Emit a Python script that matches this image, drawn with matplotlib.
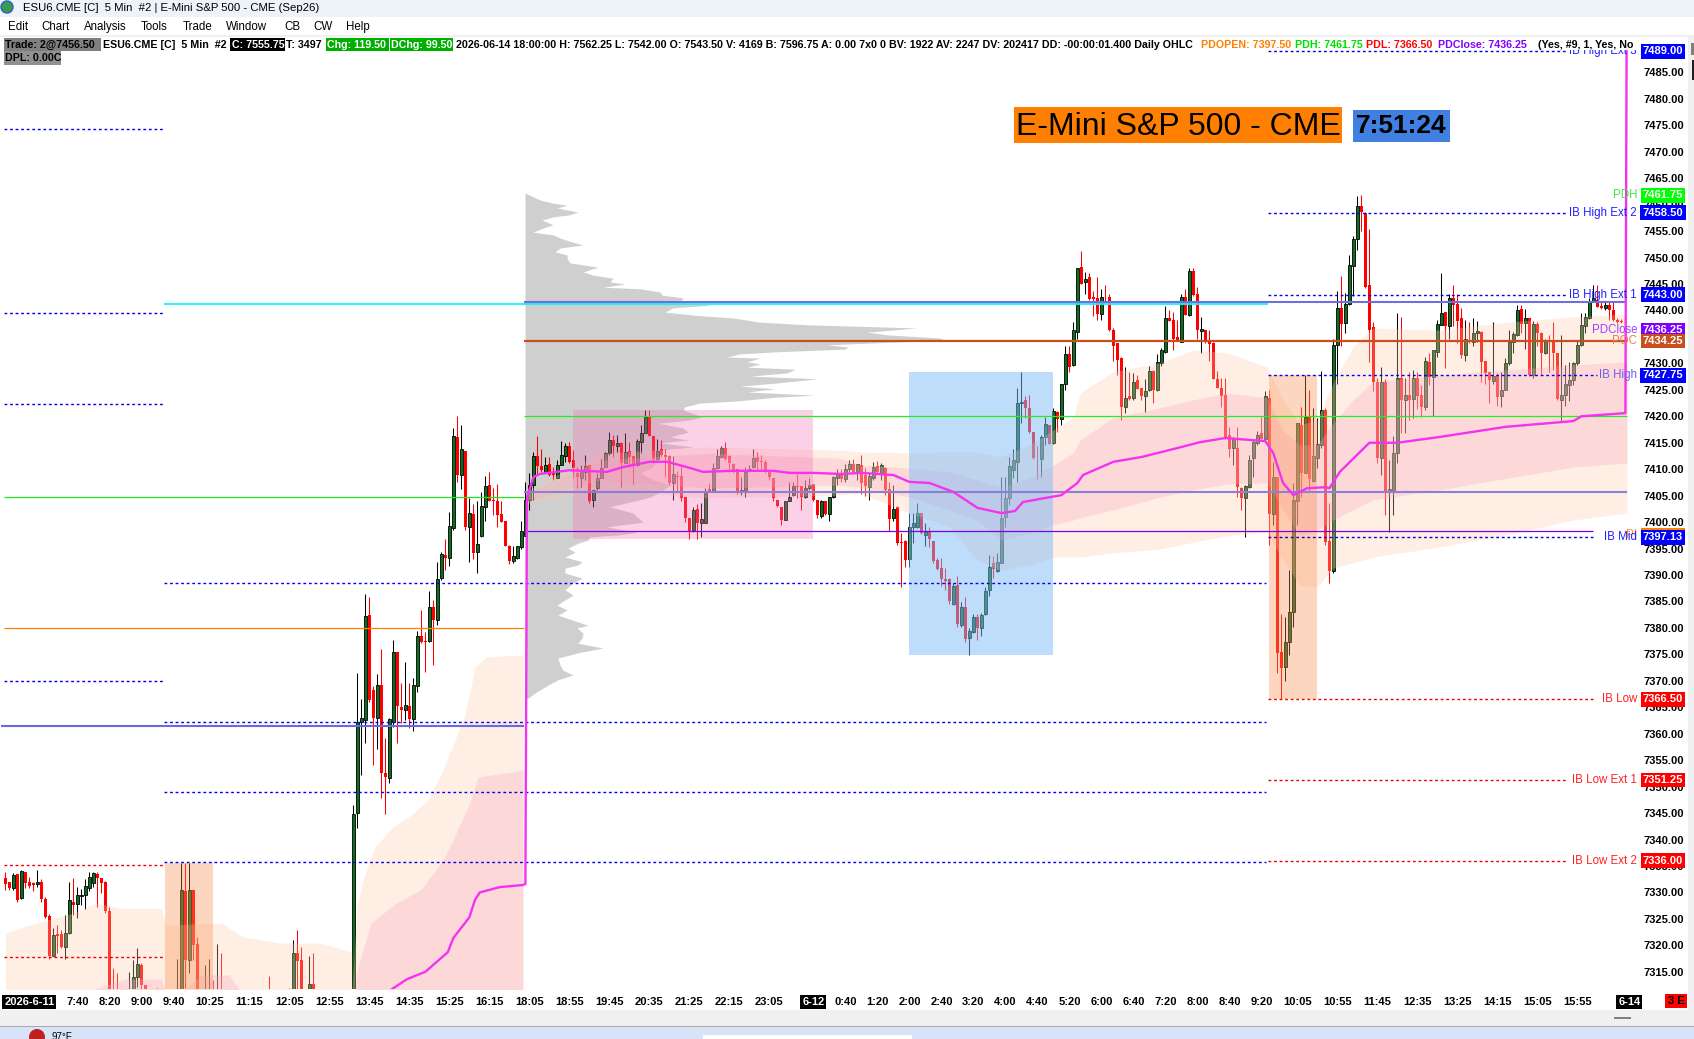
import matplotlib
matplotlib.use("Agg")
from matplotlib import pyplot as plt
from matplotlib.patches import Rectangle, Circle

# es 5 min chart, prices
opens = [
    7332.7,7332.0,7330.8,7333.5,7328.9,7333.9,7332.0,7331.7,7331.6,7332.0,
    7328.7,7325.5,7318.0,7322.1,7322.1,7319.6,7322.4,7328.2,7327.8,7329.4,
    7329.5,7330.8,7331.8,7333.5,7332.7,7332.0,7326.4,7310,7309,7307,
    7305,7306,7306,7314.1,7316.3,7312.5,7309,7307,7306,7308,
    7306,7305,7304,7303,7309,7330.3,7317.2,7330.5,7320.2,7309,
    7304,7306,7309,7305,7309,7304,7303,7305,7304,7303,
    7302,7304,7303,7305,7304,7303,7308,7304,7303,7305,
    7304,7304,7308,7318.5,7317.2,7308,7306,7312.7,7306,7305,
    7304,7303,7305,7304,7303,7304,7303,7304,7345.1,7362.3,
    7362.6,7382.4,7368.3,7363,7369.2,7352.5,7351.6,7362.2,7375.4,7365.1,
    7364.5,7365.3,7362.8,7369.1,7378.5,7377.5,7377.5,7383.9,7381.4,7389.4,
    7393.8,7393.2,7398.8,7416,7408.9,7413.4,7399.1,7401.5,7394.4,7397.4,
    7402.9,7407,7404.1,7403.9,7401.5,7400.2,7395.4,7392.7,7393.2,7395.2,
    7397.4,7404.2,7407,7412.5,7410.6,7409.5,7411,7409.2,7408.4,7410.8,
    7412.5,7414.3,7411.7,7409.3,7408.4,7409.5,7410.8,7404.1,7406.4,7408.3,
    7410.5,7413.1,7415.6,7414.4,7414.9,7411.2,7413.5,7412.5,7410.8,7415.2,
    7416.9,7419.9,7416.3,7412,7413.8,7412.7,7412.5,7407.4,7408.7,7408.7,
    7404.8,7400.7,7398.5,7402.4,7399.8,7399.9,7406.2,7405.9,7410.2,7412.4,
    7414.1,7412.5,7410.9,7410,7405.7,7405.9,7409.8,7410.4,7412.4,7411.5,
    7411.4,7409.5,7408.4,7404.2,7402.8,7400.4,7404,7405.1,7406.8,7406.8,
    7404.8,7406.4,7407.2,7404.1,7401.2,7404,7401.5,7404.7,7408.3,7409.2,
    7408.2,7410,7411,7409.5,7410.8,7408.9,7406.7,7408.3,7410.6,7409.2,
    7410.2,7406.2,7400.7,7402.9,7396.3,7396.5,7393.1,7399,7399,7401.7,
    7397.6,7398.2,7396.4,7392.9,7391.3,7389.2,7389.2,7384.5,7388.1,7380.5,
    7384,7378,7379.3,7382,7379.9,7382.6,7387.2,7392.3,7390.8,7392.3,
    7400.9,7404.5,7409.8,7411.4,7422.6,7423.1,7421.5,7417,7412.2,7412,
    7416.1,7418.4,7414.9,7420.9,7419.4,7426.2,7431.7,7429.7,7436,7448.3,
    7445.3,7446.3,7442.6,7442.3,7439.3,7442.4,7442.5,7436.4,7433.8,7431.1,
    7421.7,7423.8,7423.4,7426.9,7425.3,7423.9,7424.9,7428.6,7424.9,7430.1,
    7432.2,7438.5,7438.2,7434.9,7434.1,7442.5,7439.1,7447.5,7443.1,7436.2,
    7436.3,7434.5,7433.8,7427.1,7425.4,7424,7416.4,7414.1,7414.1,7406.4,
    7404.5,7406.7,7412.1,7414.9,7416.8,7415.8,7423.4,7401.5,7408.5,7375.4,
    7372.7,7377.3,7383,7404,7418.4,7409.3,7419.9,7407.8,7412.2,7414.6,
    7421.1,7396.4,7390.8,7433.4,7440.4,7437.7,7441.2,7448.4,7453.5,7459.8,
    7458.5,7444.8,7436.8,7426.5,7412.1,7426.5,7405.6,7405.9,7413,7427.2,
    7423.1,7424,7423.2,7427.2,7424,7421.7,7430.3,7427.5,7432.2,7437.3,
    7439.8,7437.1,7442.3,7441.2,7438.5,7431.6,7434.4,7434.1,7435.8,7436,
    7430.5,7428.4,7426.7,7427.8,7423.8,7425,7430,7434.1,7435.4,7440.2,
    7437.6,7438.5,7427.8,7437.5,7435.7,7431.9,7434.3,7434.1,7431.9,7423.1,
    7424,7425.9,7426.9,7430,7433.4,7437.1,7438.5,7441.7,7441.7,7440.8,
    7440.4,7441,7440.1,7438.2,7438.1,7437.9,
]
highs = [
    7333.9,7332.0,7333.6,7333.5,7334.2,7333.9,7332.9,7332.0,7334.2,7332.5,
    7329.2,7325.9,7323.2,7323.8,7322.9,7325.7,7332.0,7332.7,7331.1,7330.7,
    7332.5,7333.9,7333.9,7333.9,7332.7,7332.2,7327.3,7315.7,7314.8,7308,
    7307,7315,7317.2,7319.4,7316.6,7312.5,7310,7309,7311.9,7309,
    7308,7307,7307,7317.5,7335.6,7335.6,7335.6,7330.5,7321.6,7310,
    7316.3,7317.5,7313.4,7320.2,7318.5,7305,7304,7306,7305,7304,
    7303,7305,7304,7306,7305,7304,7314.2,7305,7304,7306,
    7305,7311.9,7321,7322.9,7319.7,7309,7318,7318.6,7307,7306,
    7305,7304,7306,7305,7304,7305,7304,7346.5,7371.4,7366.5,
    7386.5,7385.8,7369,7371.3,7376.1,7359.1,7362.9,7377.7,7375.5,7369.6,
    7373.6,7369.5,7370.5,7379.4,7383.3,7379.3,7387,7385.3,7392.5,7394.4,
    7396.9,7402,7417.8,7420,7418.4,7413.4,7404.6,7403.5,7403.9,7405.6,
    7408.7,7409.4,7406.4,7407.2,7403.9,7400.2,7395.7,7395.4,7395.5,7400.3,
    7407.6,7409.2,7413.3,7416.3,7413.9,7412.4,7412.4,7410.5,7411.7,7415.3,
    7414.9,7415.2,7413.6,7410.5,7410.8,7412.7,7410.8,7406.1,7409.2,7411.9,
    7413.3,7417.1,7416.5,7416.5,7415.2,7416.8,7415.2,7412.5,7415.8,7418.4,
    7421.2,7421.2,7416.3,7415.8,7415.6,7413.9,7412.7,7412.5,7409.7,7410.6,
    7404.8,7400.7,7402.9,7403.5,7403.7,7406.4,7407.4,7411.2,7413.9,7414.3,
    7415.2,7412.7,7411.1,7410.2,7408.5,7410.5,7410.8,7413.9,7413.3,7412.7,
    7411.7,7409.5,7408.4,7404.2,7402.8,7403.9,7407.5,7407.6,7409.5,7406.8,
    7408,7408.3,7407.2,7404.2,7404.2,7404,7404.7,7408.7,7410.1,7410,
    7411,7411.7,7412,7411,7412.7,7410.2,7409.5,7411.4,7411.6,7411.1,
    7410.5,7407.6,7407,7403,7397.9,7396.6,7401.7,7401.7,7403.7,7401.7,
    7399.8,7399.1,7396.4,7393.2,7393.2,7391.3,7389.4,7388.4,7389.8,7384.9,
    7385.8,7379.9,7382.7,7382.6,7382.9,7387.8,7393.8,7393.6,7394.1,7408.6,
    7408.6,7412.4,7413.9,7425.3,7428.3,7423.8,7424,7417,7414.3,7416.5,
    7419.9,7418.4,7421.5,7421,7426.1,7433.2,7433.2,7437.9,7448,7451.3,
    7447.3,7447.1,7443.6,7446.3,7444,7444.8,7443.2,7436.6,7433.8,7431.3,
    7429.4,7428.4,7428.1,7427.8,7425.3,7427,7429.5,7428.8,7431.8,7432.9,
    7440.9,7440,7439.8,7438.2,7443.1,7444,7448,7448,7444.5,7438.8,
    7436.3,7436.4,7434.1,7428.6,7427.2,7427.2,7417.9,7416.1,7417.9,7406.7,
    7407,7412.7,7415.8,7417.3,7419.9,7424.7,7425,7411.4,7408.6,7382.7,
    7382.1,7390.9,7407.3,7418.7,7421.8,7427.8,7425,7421.5,7419.6,7428.6,
    7421.5,7403.7,7434.7,7443.6,7446.5,7443.4,7450.5,7454,7461.6,7461.8,
    7458.7,7455.5,7437.9,7427.2,7429.4,7427,7411.7,7416.2,7439.5,7438.8,
    7427.2,7428.4,7428.8,7428.4,7425.9,7431.3,7431.9,7432.5,7438.2,7447,
    7439.8,7443.2,7444.8,7443.2,7440.4,7438.2,7437.9,7438.5,7438.1,7436.2,
    7430.5,7428.4,7437.9,7428.1,7428.4,7431,7436.3,7436,7441,7441,
    7440.2,7438.5,7438.1,7437.9,7436,7434.7,7435.4,7437.9,7431.9,7435.4,
    7429.7,7430.3,7430.3,7434.4,7439.5,7439.5,7442.3,7444.8,7444.8,7441.7,
    7441.7,7441.7,7441.7,7438.5,7438.3,7438.2,
]
lows = [
    7330.4,7330.4,7330.4,7328.2,7328.7,7330.8,7330.8,7330.3,7331.1,7328.2,
    7325.1,7317.5,7317.9,7318.5,7319.5,7317.5,7322.1,7325.7,7325.1,7327.6,
    7326.8,7330.3,7331,7327.3,7329.8,7326.1,7305,7306,7305,7303,
    7302,7304,7304,7312.2,7311.7,7307,7306,7305,7305,7304,
    7303,7302,7301,7301,7305,7306,7314.8,7317.2,7305,7304,
    7302,7304,7303,7303,7302,7301,7300,7302,7301,7300,
    7299,7301,7300,7302,7301,7300,7302,7301,7300,7302,
    7301,7302,7305,7306,7305,7304,7304,7304,7303,7302,
    7301,7300,7302,7301,7300,7301,7300,7302,7342.1,7352.2,
    7358.3,7366,7354.1,7357.2,7347.8,7344.8,7350.7,7361.3,7358.2,7362,
    7362.6,7361.1,7360.6,7367.8,7377.1,7371.7,7377.4,7373,7380.5,7389.1,
    7391,7391.7,7398.6,7407.6,7406.3,7398.5,7392.5,7393.1,7390.3,7397.2,
    7400.3,7403.9,7401.3,7399.1,7400.1,7395.4,7392.1,7392.3,7393,7395,
    7397.4,7402.3,7404.2,7409.1,7409.5,7409.2,7408.7,7408,7408.4,7410.7,
    7411.4,7411.1,7408.3,7406.4,7406.6,7408,7403.6,7402.9,7406.1,7408.3,
    7410.4,7412.7,7412.4,7413.3,7406.6,7411.1,7410.5,7407.2,7410.6,7413,
    7416.8,7416.2,7411.1,7411.9,7412.4,7408.6,7407,7404.2,7405.7,7403.9,
    7400.1,7396.9,7398.2,7396.9,7397.1,7399.8,7405.7,7405.7,7410,7412.1,
    7411.7,7409.5,7409.3,7405.4,7405.1,7404.8,7409.5,7410.2,7409.8,7409.8,
    7409.3,7408,7403.9,7402.9,7399.4,7400.4,7403.9,7404.9,7404.5,7402.3,
    7404.5,7406.1,7403.9,7400.7,7400.7,7401.3,7400.3,7404.5,7407,7407.5,
    7407.5,7409.5,7409,7408,7405.4,7405,7404.2,7407.9,7409.2,7408,
    7405.1,7398.4,7400.3,7395.7,7387.7,7391.6,7391.6,7396.1,7398.8,7397.7,
    7395.5,7395.2,7392.2,7390.9,7387.9,7387.2,7384.6,7384.3,7380.2,7380.2,
    7377.4,7374.8,7379.1,7377.8,7378.4,7382.4,7386,7389.5,7390.6,7392.2,
    7399.1,7403.2,7408.3,7407.6,7418.7,7419.6,7416.9,7412,7408.1,7408.5,
    7414.6,7414.8,7414.8,7417.1,7418.4,7424.9,7428.4,7429.5,7434.7,7445,
    7443.1,7442,7439,7438.2,7438.2,7441.4,7436.2,7430.5,7427.8,7419.3,
    7420.7,7423.1,7423.1,7425.1,7423.1,7420.9,7424.7,7422.5,7424.7,7429.6,
    7432,7438,7432.5,7434.3,7434.1,7439.1,7439,7442.8,7434.7,7432,
    7433.9,7430.5,7427.1,7425.4,7421.8,7415.8,7412.4,7410.8,7404.7,7402.2,
    7397.1,7406.4,7408.6,7414.6,7415.8,7415.6,7395.7,7399.4,7371.4,7366.5,
    7370,7374.9,7380.2,7399.4,7404.8,7409.2,7405.7,7407.6,7410.3,7414.1,
    7395.7,7388.5,7390.3,7426.2,7433.2,7435.7,7441.1,7442.7,7451.4,7455.1,
    7444.2,7430.3,7424.8,7411.1,7408.9,7401.3,7398.2,7401.3,7411.1,7416.8,
    7416.8,7419.3,7419.6,7421.3,7419.8,7421.2,7425.9,7420.1,7431.3,7437.3,
    7429.1,7434.7,7437,7433.9,7431,7430.5,7433.8,7433.2,7434.1,7426.4,
    7426.2,7422.5,7426.2,7421.9,7421.8,7424.9,7429.7,7431.9,7435.2,7435.7,
    7432.8,7427.6,7427.2,7433.2,7427.8,7431.8,7428.4,7428.8,7423.1,7419,
    7421.9,7422.8,7425.9,7429.7,7433.2,7435.7,7438.3,7441.7,7440.6,7440.2,
    7440.1,7438.2,7438.1,7437.6,7437.6,7437.6,
]
closes = [
    7331.6,7330.8,7333.3,7328.6,7334.1,7331.8,7331.2,7331.4,7332.0,7328.7,
    7325.4,7318.0,7321.9,7321.8,7319.6,7322.4,7328.6,7327.7,7329.5,7329.6,
    7331.3,7332.9,7333.6,7332.7,7331.8,7326.4,7309,7308,7307,7305,
    7304,7308,7314.1,7316.5,7312.5,7309,7307,7306,7308,7306,
    7305,7304,7306,7309,7330.5,7317.2,7330.5,7320.1,7309,7305,
    7308,7309,7305,7309,7304,7303,7302,7304,7303,7302,
    7301,7303,7302,7304,7303,7302,7303,7303,7302,7304,
    7303,7308,7318.5,7317,7308,7305,7312.7,7307,7305,7304,
    7303,7302,7304,7303,7302,7303,7302,7344.9,7362.3,7362.9,
    7382.3,7366.3,7363,7369.2,7352.5,7351.9,7362.7,7375.4,7365.3,7364.5,
    7365.4,7362.8,7369.2,7378.5,7377.4,7377.3,7383.9,7381.4,7389.2,7394,
    7393.2,7399.3,7416.2,7408.9,7413.8,7399.1,7401.7,7394.2,7395.8,7403,
    7406.8,7403.9,7403.9,7401.3,7400.1,7395.4,7392.7,7393.6,7395.5,7398.3,
    7404.2,7407,7412.5,7410.6,7409.8,7410.8,7408.9,7408.9,7410.8,7412.7,
    7414.3,7411.4,7410.2,7408.5,7409.8,7410.6,7403.9,7406.1,7408.4,7410.2,
    7413,7415.6,7414.4,7414.9,7411.1,7413.3,7412.4,7410.7,7415.3,7416.8,
    7419.9,7416.2,7411.9,7413.5,7412.7,7412.4,7407.4,7409.1,7408.6,7404.5,
    7400.7,7398.2,7402.3,7399.8,7400.5,7405.6,7405.7,7410.2,7412.5,7414.1,
    7412,7411.1,7409.8,7405.6,7406.1,7409.5,7410,7412.2,7411.4,7411.4,
    7409.5,7408.5,7404.5,7403,7400.4,7403.9,7404.8,7406.8,7406.6,7404.7,
    7406.4,7407,7404.1,7401.3,7403.9,7401.5,7404.7,7408.5,7409.2,7408.2,
    7410,7411,7409.5,7411,7407.3,7406.8,7408.7,7410.5,7409.5,7410.8,
    7406.1,7400.5,7402.5,7396.1,7396.1,7392.8,7399.1,7399.9,7401.8,7397.9,
    7398.2,7396.8,7392.7,7391.1,7389.3,7388.9,7385,7388,7380.7,7384,
    7377.9,7379.5,7382.1,7380,7382.4,7387,7391.6,7391.1,7392.5,7400.7,
    7404.5,7410.6,7411.7,7422.6,7422.7,7421.5,7417.1,7412.2,7412.1,7416.1,
    7418.5,7414.8,7421,7419.4,7426.1,7431.7,7429.4,7436.3,7448,7445.1,
    7445.9,7442.2,7442.2,7439.3,7442.6,7442.3,7436.3,7433.2,7430.6,7421.7,
    7423.4,7423.2,7426.4,7425.2,7423.9,7424.8,7428.6,7424.9,7430.2,7432.5,
    7438.5,7438,7434.7,7434.4,7442.5,7439.1,7447.5,7442.9,7436.4,7436.5,
    7434.3,7433.7,7427.1,7425.4,7423.9,7416.1,7413.8,7415.8,7406.7,7404.5,
    7406.8,7411.7,7415.2,7416.5,7415.8,7423.8,7401.5,7408.6,7375.3,7372.4,
    7377.4,7383,7404.2,7418.7,7409.2,7419.9,7408.1,7412.5,7414.8,7421.1,
    7396.3,7390.8,7433.5,7440.4,7437.5,7441.2,7448.6,7453.6,7459.8,7458.7,
    7444.5,7436.4,7426.4,7412.1,7426.4,7405.6,7406.2,7413.1,7427.2,7423.1,
    7424,7423.1,7427.2,7423.8,7421.8,7430.5,7427.5,7432.5,7437.5,7439.5,
    7437.1,7442.3,7441,7438.1,7431.6,7434.6,7434,7435.8,7436.2,7430.3,
    7428.2,7426.9,7427.6,7423.7,7425,7430,7434.1,7435.6,7440.1,7437.5,
    7438.5,7427.8,7437.5,7435.7,7431.9,7434.4,7434.1,7431.9,7423.2,7424,
    7426.2,7426.9,7430.1,7433.5,7437.3,7438.8,7441.7,7442.3,7440.7,7440.4,
    7441,7440,7438.2,7437.8,7437.8,7437.8,
]

# volume profile of the 6-12 session
profile_prices = [
    7462.2,7460.9,7460.3,7459.9,7459.4,7458.6,7458.1,7457.7,7457.1,7456.2,7455.6,7454.8,7454.3,7453.7,
    7452.9,7452.4,7451.8,7451.1,7450.5,7449.9,7449,7448.2,7447.3,7446.7,7446.1,7445.4,7445,7444.4,7444.1,
    7443.5,7442.9,7442.4,7441.6,7441,7440.5,7439.7,7439.1,7438.6,7437.8,7437.3,7436.7,7435.9,7435.4,7434.8,
    7434.4,7434,7433.5,7433.1,7432.7,7432.2,7431.8,7431.2,7431,7430.3,7429.9,7429.3,7428.9,7428.2,7427.6,
    7427.1,7426.3,7425.7,7425.2,7424.6,7424,7423.6,7422.9,7422.5,7421.8,7421.2,7419.9,7419.3,7418.7,7417.8,
    7417,7416.1,7415.5,7415,7414.2,7413.6,7412.7,7411.7,7410.4,7409.3,7408,7407,7405.7,7404.7,7403.8,7402.9,
    7401.7,7400,7399.1,7398.1,7397.6,7397.2,7396.6,7396,7395.1,7394.3,7393.4,7392.5,7391.9,7391.3,7390.4,
    7389.4,7388.5,7387.2,7386.2,7385.3,7384.3,7383.4,7382.4,7381.5,7380.5,7380,7379,7378.1,7377.1,7376.2,
    7375.3,7374.3,7373,7372,7371.1,7370.2,7369.2,7367.7,7366.7,
]
profile_volume = [
    0,15,28,42,32,53,45,28,17,28,18,8,28,35,
    48,58,35,30,42,42,45,73,58,68,88,85,100,78,115,
    135,137,158,155,187,148,140,170,208,235,282,392,342,362,415,
    420,365,302,323,320,252,215,202,235,222,235,222,270,262,225,
    293,252,215,250,222,290,250,212,175,160,158,177,165,133,158,
    163,145,163,135,168,135,135,132,128,115,128,145,135,125,105,85,
    108,118,82,112,95,65,63,53,43,50,40,57,53,40,40,
    57,48,40,48,40,32,42,33,47,63,52,58,57,53,78,
    53,33,35,38,48,33,23,10,3,
]

# vwap, with the two session resets as jumps
vwap_bars = [
    96.6,100.4,105,110.6,112,116,117.4,118.6,123.6,129.4,130,130.4,132,133.6,141,150.4,154.4,161,165.4,170.4,174.4,
    182,192,196,202,209,214,222,226,231,237,243,249,252.4,254.4,264,268,269.4,277,284,293,298.6,305,315,317,
    319.4,322,325.4,330,331,333.6,341,348,358.6,375,392,394,405,405.3,
]
vwap_prices = [
    7311.7,7313.6,7315,7318.7,7321.4,7325.3,7328.6,7330,7331,7331.4,7331.6,7404.7,7408.5,7409.1,7409.8,7409.5,7410.4,
    7411.4,7411.4,7410.4,7409.5,7409.7,7409.7,7409.3,7409.3,7409.1,7409.3,7408.9,7407.6,7407.4,7405.7,7402.7,
    7401.7,7402.1,7403.8,7405.1,7407.4,7408.9,7411.4,7412.3,7414,7415.1,7415.9,7415.3,7413,7407.4,7405.1,7406.4,
    7406.6,7406.4,7409.5,7415,7415,7416.1,7418,7419.1,7420,7420.6,7489,
]

# stddev bands per session
band1_outer_bars = [0,7.6,17,22.6,29,39,40,54,59.4,69,79,86.6]
band1_outer_top = [7322.3,7324.2,7326.1,7328,7327,7327,7323.8,7324.2,7321.6,7320.4,7320.4,7318.7]
band1_inner_bars = [19,30,39,40,44,49,56,59]
band1_inner_top = [7311,7313.6,7313.6,7311.5,7311,7314.4,7314.4,7311]
band2_outer_bars = [86.6,87.9,89.6,92.4,96.9,101.4,105.7,109.4,112.4,114.7,116.4,117.4,120.2,129.4]
band2_outer_top = [7311,7327.2,7332.9,7338.6,7342.4,7344.6,7347.5,7353.1,7358.8,7363.2,7368.8,7372.6,7374.5,7374.9]
band2_inner_bars = [86.6,87.9,91.4,97.7,103.9,109.4,111.9,116.4,118.1,129.4]
band2_inner_top = [7305,7315.3,7324.2,7328,7330.5,7336.1,7339.9,7347.5,7351.8,7353.1]
band3_bars = [
    130.4,148.6,175.4,208.6,213.6,226.1,236,242.9,248.7,256,262,267,268.7,276.9,288.6,296.9,305.4,315.4,
    319.4,323.6,327.9,331.9,336.9,341.9,358.6,375.4,391.9,405.4,
]
band3_outer_top = [
    7406,7413,7414.2,7413.6,7413.3,7413.1,7413.3,7413.3,7412.3,7414.6,7417.4,7419.9,7424.4,7428.4,7430.1,7432.5,7432,7429.3,
    7423.1,7418.4,7419.3,7426.3,7433.1,7436.7,7436.3,7437.8,7438.8,7439.3,
]
band3_inner_top = [
    7405.5,7411.7,7413,7412.1,7410.8,7410.2,7409.5,7408,7406.6,7408.3,7410.8,7413.1,7415.5,7419.7,7421.6,7423.1,7424.4,7423.5,
    7417.4,7414.6,7414.6,7418.7,7423.1,7426.5,7427.8,7428.8,7429.7,7430.3,
]
band3_inner_bottom = [
    7404,7408,7406.4,7407,7406.6,7404.7,7402.3,7400.4,7396.6,7397.9,7399.5,7400.4,7400.8,7402.3,7404.7,7406.1,7407.2,7407.4,
    7402.3,7397.6,7398.5,7400.4,7402.3,7404.2,7406.1,7408.3,7410.4,7411.2,
]
band3_outer_bottom = [
    7403.5,7406,7404.6,7405.1,7405.5,7401.7,7399.1,7392.8,7390.9,7391.9,7393.4,7393.4,7393.4,7394.2,7394.9,7396.2,7397.4,7398.1,
    7392.8,7388.1,7387.7,7391.3,7392.3,7393.4,7395.3,7397.6,7400.4,7401.7,
]

# session levels: price, first bar, last bar
prev_ib_levels = [7474.3, 7439.5, 7422.3, 7370]
prev_ib_low_levels = [7335.2, 7317.8]
mid_ib_levels = [7388.5, 7362.2, 7349, 7335.7]
cur_ib_high = [(7489, 315.7, 390.6), (7458.5, 315.7, 390.6), (7443, 315.7, 390.6), (7427.75, 315.7, 397.9), (7397.13, 315.7, 396.9)]
cur_ib_low = [(7366.5, 315.7, 397.4), (7351.25, 315.7, 390.6), (7336, 315.7, 390.6)]

level_names = ["IB High Ext 3", "PDH", "IB High Ext 2", "IB High Ext 1", "PDClose", "POC", "IB High", "PI", "IB Mid", "IB Low", "IB Low Ext 1", "IB Low Ext 2"]
level_prices = [7489, 7461.75, 7458.5, 7443, 7436.25, 7434.25, 7427.75, 7397.5, 7397.13, 7366.5, 7351.25, 7336]
level_colors = ["#0000ff", "#00ff00", "#0000ff", "#0000ff", "#8000ff", "#c8501e", "#0000ff", "#ff8000", "#0000ff", "#ff0000", "#ff0000", "#ff0000"]
level_text_colors = ["#2020ff", "#40e840", "#2020ff", "#2020ff", "#a040ff", "#e88050", "#6a60e8", "#ff9020", "#2020ff", "#ff2020", "#ff2020", "#ff2020"]

tick_bars = [
    6,18,26,34,42,51,61,71,81,91,101,111,121,131,141,151,161,171,181,191,
    202,210,218,226,234,242,250,258,266,274,282,290,298,306,314,323,333,343,353,363,373,383,393,406,
]
tick_labels = [
    "2026-6-11","7:40","8:20","9:00","9:40","10:25","11:15","12:05","12:55","13:45","14:35","15:25","16:15","18:05",
    "18:55","19:45","20:35","21:25","22:15","23:05","6-12","0:40","1:20","2:00","2:40","3:20","4:00","4:40","5:20",
    "6:00","6:40","7:20","8:00","8:40","9:20","10:05","10:55","11:45","12:35","13:25","14:15","15:05","15:55","6-14",
]
price_ticks = list(range(7315, 7490, 5))

plt.rcParams["font.family"] = "Liberation Sans"

W, H = 1694, 1039
fig = plt.figure(figsize=(W / 100, H / 100), dpi=100, facecolor="white")
ax = fig.add_axes([0, (H - 989) / H, 1640 / W, (989 - 36) / H])
ax.set_xlim(-1.35, 408.65)
ax.set_ylim(7311.74, 7491.89)
for s in ax.spines.values():
    s.set_visible(False)

# candles
bars = range(len(opens))
up = [closes[i] >= opens[i] for i in bars]
for i in bars:
    ax.vlines(i, lows[i], highs[i], color="black" if up[i] else "#ff0000", lw=0.75, zorder=3)
    if up[i]:
        ax.bar(i, closes[i] - opens[i], bottom=opens[i], width=0.62, color="#0b6e1e", edgecolor="black", lw=0.6, zorder=3.1)
    else:
        ax.bar(i, opens[i] - closes[i], bottom=closes[i], width=0.72, color="#ff0000", lw=0, zorder=3.1)

# profile
ax.fill_betweenx(profile_prices, 129.9, [129.9 + v / 4 for v in profile_volume], color="#cfcfcf", lw=0, zorder=1)

# bands
OUT, INN = "#ffc8a8", "#f8a8c0"
ax.fill_between(band1_outer_bars, band1_outer_top, 7300, color=OUT, alpha=0.3, lw=0, zorder=4)
ax.fill_between(band1_inner_bars, band1_inner_top, 7300, color=INN, alpha=0.3, lw=0, zorder=4)
ax.fill_between(band2_outer_bars, band2_outer_top, 7300, color=OUT, alpha=0.3, lw=0, zorder=4)
ax.fill_between(band2_inner_bars, band2_inner_top, 7300, color=INN, alpha=0.3, lw=0, zorder=4)
ax.fill_between(band3_bars, band3_outer_top, band3_outer_bottom, color=OUT, alpha=0.3, lw=0, zorder=4)
ax.fill_between(band3_bars, band3_inner_top, band3_inner_bottom, color=INN, alpha=0.3, lw=0, zorder=4)

# shaded boxes
ax.add_patch(Rectangle((141.9, 7396.8), 60, 24.4, fc="#f572b7", alpha=0.32, lw=0, zorder=4.5))
ax.add_patch(Rectangle((225.9, 7374.8), 36, 53.6, fc="#7ebcf7", alpha=0.5, lw=0, zorder=4.5))
ax.add_patch(Rectangle((315.9, 7366.5), 12, 61.3, fc="#fb8f50", alpha=0.36, lw=0, zorder=4.5))
ax.add_patch(Rectangle((39.9, 7300), 12, 35.6, fc="#fb8f50", alpha=0.36, lw=0, zorder=4.5))

# solid levels
ax.hlines(7441.2, 39.6, 315.7, color="#19f0ff", lw=1.3, zorder=5)
ax.hlines(7441.6, 129.6, 405.4, color="#7070dd", lw=1.5, zorder=5)
ax.hlines(7434.25, 129.6, 405.4, color="#c8501e", lw=1.6, zorder=5)
ax.hlines(7420, 129.6, 405.4, color="#22ee22", lw=0.9, zorder=5)
ax.hlines(7405.7, 129.6, 405.4, color="#8a80d8", lw=1.5, zorder=5)
ax.hlines(7398.3, 129.6, 396.9, color="#8000e0", lw=0.9, zorder=5)
ax.hlines(7404.7, -0.4, 129.6, color="#22e022", lw=0.9, zorder=5)
ax.hlines(7380, -0.4, 129.6, color="#ff8000", lw=0.9, zorder=5)
ax.hlines(7361.4, -1.2, 129.6, color="#6a6ae0", lw=1.5, zorder=5)

# dashed levels
DASH = (0, (2, 2))
ax.hlines(prev_ib_levels, -0.4, 39.4, color="#0000ee", lw=1, linestyles=[DASH], zorder=5)
ax.hlines(prev_ib_low_levels, -0.4, 39.4, color="#ee0000", lw=1, linestyles=[DASH], zorder=5)
ax.hlines(mid_ib_levels, 39.6, 315.2, color="#0000ee", lw=1, linestyles=[DASH], zorder=5)
for p, a, b in cur_ib_high:
    ax.hlines(p, a, b, color="#0000ee", lw=1, linestyles=[DASH], zorder=5)
for p, a, b in cur_ib_low:
    ax.hlines(p, a, b, color="#ee0000", lw=1, linestyles=[DASH], zorder=5)

ax.plot(vwap_bars, vwap_prices, color="#f433f0", lw=1.7, zorder=6)

# axes text
ax.yaxis.tick_right()
ax.set_yticks(price_ticks, [f"{p:.2f}" for p in price_ticks], weight="bold", fontsize=8)
ax.set_xticks(tick_bars, tick_labels, weight="bold", fontsize=8)
ax.tick_params(axis="both", length=0)
ax.tick_params(axis="y", pad=2.4)
ax.tick_params(axis="x", pad=6)
for t in ax.get_xticklabels():
    if "-" in t.get_text():
        t.set_color("white")
        t.set_bbox(dict(fc="black", ec="none", pad=1.4))

for n, p, c, tc in zip(level_names, level_prices, level_colors, level_text_colors):
    ax.text(407.9, p, n, ha="right", va="center", color=tc, fontsize=8.3, zorder=8, clip_on=False)
    ax.text(414.4, p, f"{p:.2f}", ha="center", va="center", color="white", weight="bold", fontsize=8,
            zorder=9, clip_on=False, bbox=dict(fc=c, ec="none", pad=1.6))

# window chrome in pixel coordinates
ui = fig.add_axes([0, 0, 1, 1], zorder=10)
ui.set_xlim(0, W)
ui.set_ylim(H, 0)
ui.axis("off")


def box(x0, y0, x1, y1, color):
    ui.add_patch(Rectangle((x0, y0), x1 - x0, y1 - y0, fc=color, ec="none"))


box(0, 0, W, 17, "#eef2f9")
box(0, 17, W, 35, "white")
box(0, 35, W, 37, "#f0f0f0")
box(0, 37, 1640, 50, "white")
box(1688, 37, W, 1010, "#f0f0f0")
box(1691, 43, W, 55, "#808080")
box(1692, 60, W, 80, "#202020")
box(0, 1010, W, 1026, "#f0f0f0")
box(0, 1026, W, 1027, "#a8a8a8")
box(0, 1027, W, H, "#d8e3f7")
box(703, 1035, 912, H, "white")
box(1614, 1017, 1631, 1019, "#808080")
box(3.8, 38, 101, 51, "#808080")
box(3.8, 51, 61, 65, "#909090")
box(230, 38, 284.5, 51, "black")
box(326, 38, 389, 51, "#00b000")
box(390, 38, 453, 51, "#00b000")
box(1014, 107, 1342, 143, "#ff8000")
box(1353, 110, 1450, 142, "#4080e0")
box(1665, 994, 1687, 1008, "#ff0000")
ui.add_patch(Circle((7, 7), 6, fc="#3a9a50", ec="#2a60c0", lw=1))
ui.add_patch(Circle((37, 1037), 8, fc="#c02020", ec="none"))

ui.text(23, 8, "ESU6.CME [C]  5 Min  #2 | E-Mini S&P 500 - CME (Sep26)", va="center", fontsize=8.2)
for name, x in zip(["Edit", "Chart", "Analysis", "Tools", "Trade", "Window", "CB", "CW", "Help"], [8, 41, 84, 141, 183, 226, 284, 313, 346]):
    ui.text(x, 27, name, va="center", fontsize=8.3)

head = [
    (5, "Trade: 2@7456.50", "black"),
    (103, "ESU6.CME [C]  5 Min  #2", "black"),
    (232, "C: 7555.75", "white"),
    (286, "T: 3497", "black"),
    (327, "Chg: 119.50", "white"),
    (391, "DChg: 99.50", "white"),
    (456, "2026-06-14 18:00:00 H: 7562.25 L: 7542.00 O: 7543.50 V: 4169 B: 7596.75 A: 0.00 7x0 0 BV: 1922 AV: 2247 DV: 202417 DD: -00:00:01.400 Daily OHLC", "black"),
    (1201, "PDOPEN: 7397.50", "#ff8000"),
    (1295, "PDH: 7461.75", "#00e000"),
    (1366, "PDL: 7366.50", "#ff0000"),
    (1438, "PDClose: 7436.25", "#8000ff"),
    (1538, "(Yes, #9, 1, Yes, No", "black"),
]
for x, s, c in head:
    t = ui.text(x, 44.5, s, va="center", color=c, weight="bold", fontsize=7.7)
    t.set_clip_path(Rectangle((0, 0), 1638, H, transform=ui.transData))
ui.text(5, 58, "DPL: 0.00C", va="center", weight="bold", fontsize=7.7)
ui.text(1178, 127, "E-Mini S&P 500 - CME", ha="center", va="center", fontsize=23)
ui.text(1401.5, 126, "7:51:24", ha="center", va="center", weight="bold", fontsize=19)
ui.text(1676, 1001, "3 E", ha="center", va="center", weight="bold", fontsize=8)
ui.text(52, 1037, "97°F", va="center", fontsize=7)

fig.savefig("out.png", dpi=100)
